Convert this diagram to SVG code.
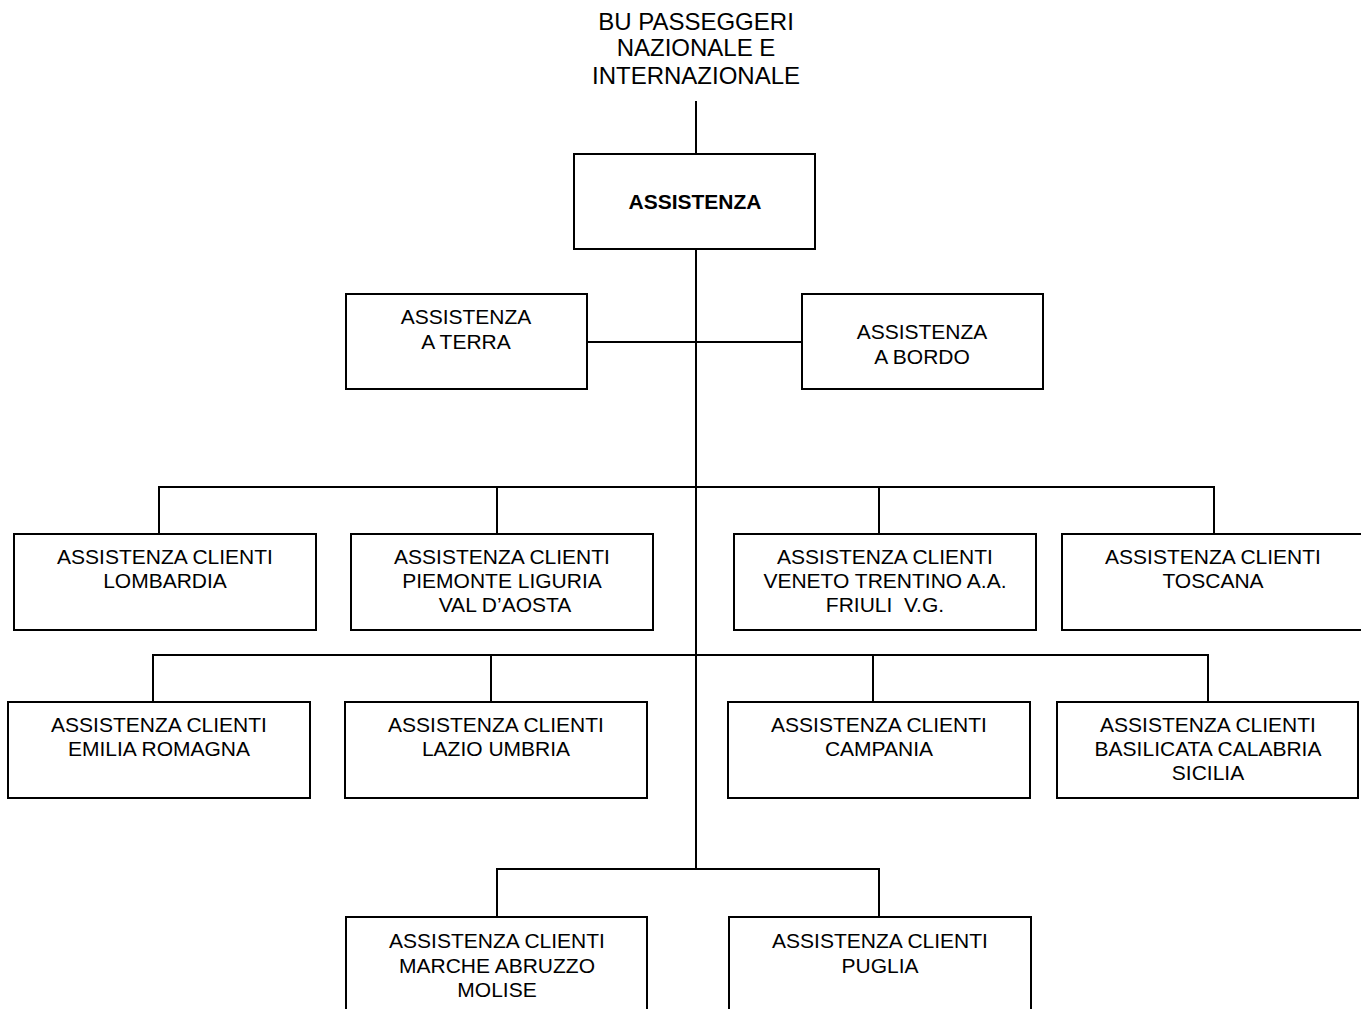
<svg xmlns="http://www.w3.org/2000/svg" width="1361" height="1009" viewBox="0 0 1361 1009">
<style>
  .box { fill: #ffffff; stroke: #000000; stroke-width: 2; }
  .ln { fill: none; stroke: #000000; stroke-width: 2; }
  text { font-family: "Liberation Sans", Arial, sans-serif; font-size: 21px; fill: #000000; text-anchor: middle; white-space: pre; }
  .top { font-size: 24px; }
  .bold { font-weight: bold; }
</style>
<rect x="0" y="0" width="1361" height="1009" fill="#ffffff"/>
<g id="connectors">
  <line class="ln" x1="696" y1="101" x2="696" y2="154"/>
  <line class="ln" x1="696" y1="249" x2="696" y2="869"/>
  <line class="ln" x1="587" y1="342" x2="802" y2="342"/>
  <polyline class="ln" points="159,534 159,487 1214,487 1214,534"/>
  <line class="ln" x1="497" y1="487" x2="497" y2="534"/>
  <line class="ln" x1="879" y1="487" x2="879" y2="534"/>
  <polyline class="ln" points="153,702 153,655 1208,655 1208,702"/>
  <line class="ln" x1="491" y1="655" x2="491" y2="702"/>
  <line class="ln" x1="873" y1="655" x2="873" y2="702"/>
  <polyline class="ln" points="497,917 497,869 879,869 879,917"/>
</g>
<g id="bu-passeggeri">
  <text class="top" x="696" y="30">BU PASSEGGERI</text>
  <text class="top" x="696" y="56">NAZIONALE E</text>
  <text class="top" x="696" y="84">INTERNAZIONALE</text>
</g>
<g id="assistenza">
  <rect class="box" x="574" y="154" width="241" height="95"/>
  <text class="bold" x="695" y="209">ASSISTENZA</text>
</g>
<g id="assistenza-terra">
  <rect class="box" x="346" y="294" width="241" height="95"/>
  <text x="466" y="324">ASSISTENZA</text>
  <text x="466" y="349">A TERRA</text>
</g>
<g id="assistenza-bordo">
  <rect class="box" x="802" y="294" width="241" height="95"/>
  <text x="922" y="339">ASSISTENZA</text>
  <text x="922" y="364">A BORDO</text>
</g>
<g id="lombardia">
  <rect class="box" x="14" y="534" width="302" height="96"/>
  <text x="165" y="564">ASSISTENZA CLIENTI</text>
  <text x="165" y="588">LOMBARDIA</text>
</g>
<g id="piemonte">
  <rect class="box" x="351" y="534" width="302" height="96"/>
  <text x="502" y="564">ASSISTENZA CLIENTI</text>
  <text x="502" y="588">PIEMONTE LIGURIA</text>
  <text x="505" y="612">VAL D’AOSTA</text>
</g>
<g id="veneto">
  <rect class="box" x="734" y="534" width="302" height="96"/>
  <text x="885" y="564">ASSISTENZA CLIENTI</text>
  <text x="885" y="588">VENETO TRENTINO A.A.</text>
  <text x="885" y="612">FRIULI  V.G.</text>
</g>
<g id="toscana">
  <rect class="box" x="1062" y="534" width="302" height="96"/>
  <text x="1213" y="564">ASSISTENZA CLIENTI</text>
  <text x="1213" y="588">TOSCANA</text>
</g>
<g id="emilia">
  <rect class="box" x="8" y="702" width="302" height="96"/>
  <text x="159" y="732">ASSISTENZA CLIENTI</text>
  <text x="159" y="756">EMILIA ROMAGNA</text>
</g>
<g id="lazio">
  <rect class="box" x="345" y="702" width="302" height="96"/>
  <text x="496" y="732">ASSISTENZA CLIENTI</text>
  <text x="496" y="756">LAZIO UMBRIA</text>
</g>
<g id="campania">
  <rect class="box" x="728" y="702" width="302" height="96"/>
  <text x="879" y="732">ASSISTENZA CLIENTI</text>
  <text x="879" y="756">CAMPANIA</text>
</g>
<g id="basilicata">
  <rect class="box" x="1057" y="702" width="301" height="96"/>
  <text x="1208" y="732">ASSISTENZA CLIENTI</text>
  <text x="1208" y="756">BASILICATA CALABRIA</text>
  <text x="1208" y="780">SICILIA</text>
</g>
<g id="marche">
  <rect class="box" x="346" y="917" width="301" height="120"/>
  <text x="497" y="948">ASSISTENZA CLIENTI</text>
  <text x="497" y="973">MARCHE ABRUZZO</text>
  <text x="497" y="997">MOLISE</text>
</g>
<g id="puglia">
  <rect class="box" x="729" y="917" width="302" height="120"/>
  <text x="880" y="948">ASSISTENZA CLIENTI</text>
  <text x="880" y="973">PUGLIA</text>
</g>
</svg>
